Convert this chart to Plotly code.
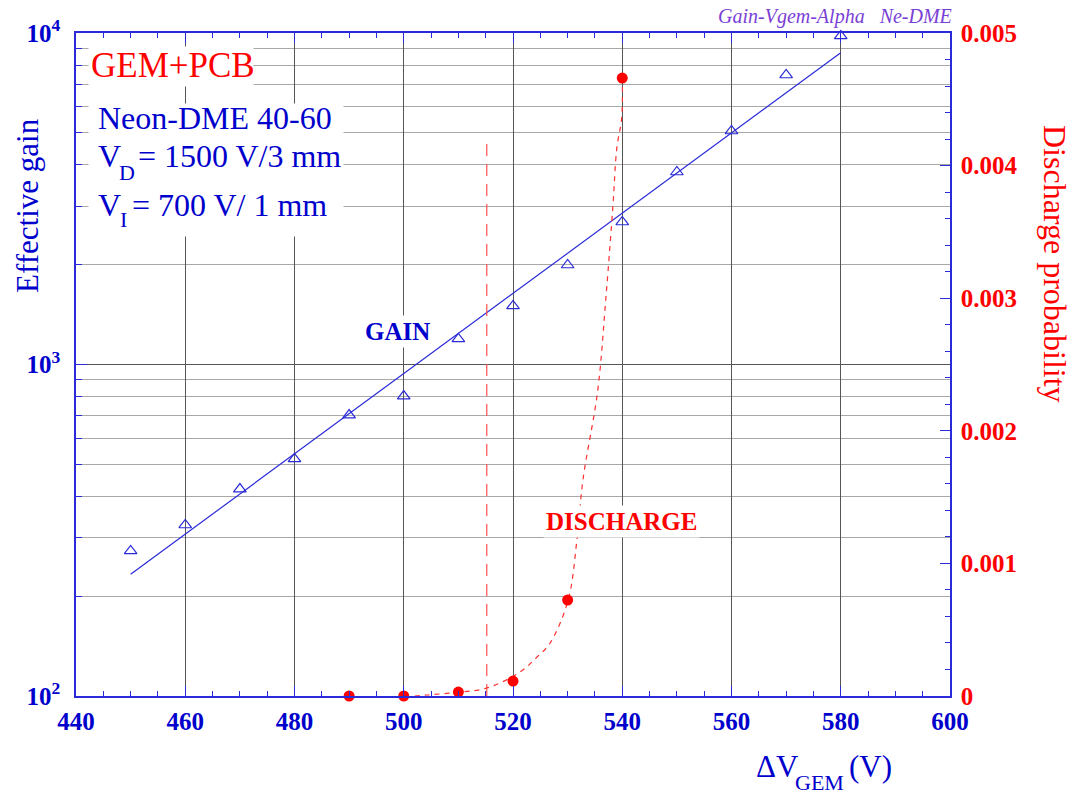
import plotly.graph_objects as go

# ---------------- data ----------------
gain_v = [450, 460, 470, 480, 490, 500, 510, 520, 530, 540, 550, 560, 570, 580]
gain_val = [274, 328, 421, 519, 704, 803, 1194, 1502, 1996, 2691, 3808, 5063, 7470, 9800]

fit_v = [450, 580]
fit_val = [233, 8722]

dis_v = [490, 500, 510, 520, 530, 540]
dis_p = [0.0, 0.0, 0.00003, 0.000113, 0.000724, 0.00466]

curve_v = [502.0, 504.3, 510.3, 515.2, 521.3, 524.4, 526.8, 530.1, 531.7, 532.8,
           535.5, 537.0, 538.3, 539.0, 539.9, 540.0]
curve_p = [0.0, 0.0000075, 0.00003, 0.00006, 0.000181, 0.000294, 0.0004, 0.000724,
           0.001176, 0.001629, 0.0023, 0.0030, 0.0037, 0.00413, 0.00436, 0.00466]

thr_v = [515.2, 515.2]
thr_p = [0.0, 0.00417]

x_ticks = [440, 460, 480, 500, 520, 540, 560, 580, 600]
y_ticks = [100, 1000, 10000]
y_ticktext = ["10<sup>2</sup>", "10<sup>3</sup>", "10<sup>4</sup>"]
y2_ticks = [0, 0.001, 0.002, 0.003, 0.004, 0.005]
y2_ticktext = ["0", "0.001", "0.002", "0.003", "0.004", "0.005"]

# ---------------- style ----------------
BLUE = "#0000cc"
LINEBLUE = "#2a2ad8"
RED = "#ff0000"
SERIF = "Liberation Serif"

W, H = 1077, 794
L, R, T, B = 76, 950, 33, 696


def px(x):
    return (x - L) / (R - L)


def py(y):
    return (B - y) / (B - T)


fig = go.Figure()

fig.add_trace(go.Scatter(x=fit_v, y=fit_val, mode="lines",
                         line=dict(color=LINEBLUE, width=1.2), showlegend=False))
fig.add_trace(go.Scatter(x=gain_v, y=gain_val, mode="markers",
                         marker=dict(symbol="triangle-up-open", size=11,
                                     color=LINEBLUE, line=dict(width=1.2, color=LINEBLUE)),
                         cliponaxis=False, showlegend=False))
fig.add_trace(go.Scatter(x=thr_v, y=thr_p, yaxis="y2", mode="lines",
                         line=dict(color="#ff5050", width=1.2, dash="12px,8px"),
                         showlegend=False))
fig.add_trace(go.Scatter(x=curve_v, y=curve_p, yaxis="y2", mode="lines",
                         line=dict(color="#ff3030", width=1.2, dash="5px,5px", shape="spline"),
                         showlegend=False))
fig.add_trace(go.Scatter(x=dis_v, y=dis_p, yaxis="y2", mode="markers",
                         marker=dict(symbol="circle", size=11, color=RED),
                         cliponaxis=False, showlegend=False))

tickfont_b = dict(family=SERIF, size=25, color=BLUE, weight="bold")

fig.update_layout(
    width=W, height=H,
    margin=dict(l=L, r=W - R, t=T, b=H - B, pad=0),
    paper_bgcolor="white", plot_bgcolor="white",
    showlegend=False,
    xaxis=dict(
        range=[440, 600], tickvals=x_ticks, ticks="inside", ticklen=10,
        tickcolor=LINEBLUE, tickwidth=1,
        showline=True, linecolor=LINEBLUE, linewidth=1.5, mirror="ticks",
        showgrid=True, gridcolor="#555555", gridwidth=1, zeroline=False,
        tickfont=tickfont_b, ticklabelstandoff=2,
        minor=dict(dtick=5, tick0=440, ticks="inside", ticklen=5,
                   tickcolor=LINEBLUE, showgrid=False),
    ),
    yaxis=dict(
        type="log", range=[2, 4], tickvals=y_ticks, ticktext=y_ticktext,
        ticks="inside", ticklen=11, tickcolor=LINEBLUE,
        showline=True, linecolor=LINEBLUE, linewidth=1.5, mirror=False,
        showgrid=True, gridcolor="#555555", gridwidth=1, zeroline=False,
        tickfont=tickfont_b, ticklabelstandoff=9,
        minor=dict(dtick="D1", ticks="inside", ticklen=6, tickcolor=LINEBLUE,
                   showgrid=True, gridcolor="#a8a8a8", gridwidth=1),
    ),
    yaxis2=dict(
        overlaying="y", side="right", range=[0, 0.005],
        tickvals=y2_ticks, ticktext=y2_ticktext,
        ticks="inside", ticklen=10, tickcolor=LINEBLUE,
        showline=True, linecolor=LINEBLUE, linewidth=1.5,
        showgrid=False, zeroline=False,
        tickfont=dict(family=SERIF, size=25, color=RED, weight="bold"),
        ticklabelstandoff=4,
        minor=dict(dtick=0.0002, tick0=0, ticks="inside", ticklen=5,
                   tickcolor=LINEBLUE, showgrid=False),
    ),
)


def note(text, x, y, size, color, xanchor="center", yanchor="middle", **kw):
    return dict(text=text, x=px(x), y=py(y), xref="paper", yref="paper",
                xanchor=xanchor, yanchor=yanchor, showarrow=False,
                font=dict(family=SERIF, size=size, color=color), **kw)


def box(x0, y0, x1, y1):
    return dict(text=" ", x=px(x0), y=py(y0), xref="paper", yref="paper",
                xanchor="left", yanchor="top", showarrow=False,
                width=x1 - x0, height=y1 - y0, bgcolor="white", borderpad=0,
                font=dict(family=SERIF, size=10, color="white"))


ann = []
# axis titles
ann.append(note("Effective gain", 28, 206, 31, BLUE, textangle=-90))
ann.append(note("Discharge probability", 1055, 264, 32, RED, textangle=90))
ann.append(note("\u0394V", 754, 766, 31, BLUE, xanchor="left"))
ann.append(note("GEM", 819.5, 782, 22, BLUE))
ann.append(note("(V)", 847, 766, 31, BLUE, xanchor="left"))
# top right title
ann.append(note("<i>Gain-Vgem-Alpha   Ne-DME</i>", 835, 16, 20, "#7b3fd6"))
# text boxes (white backgrounds first)
ann.append(box(88, 46, 252, 85))
ann.append(box(88, 103, 342, 235))
ann.append(note("GEM+PCB", 89, 65.5, 35, RED, xanchor="left"))
ann.append(note("Neon-DME 40-60", 96, 118.5, 32, BLUE, xanchor="left"))
ann.append(note("V", 96, 156, 32, BLUE, xanchor="left"))
ann.append(note("D", 127, 172, 22, BLUE))
ann.append(note("= 1500 V/3 mm", 136, 156, 32, BLUE, xanchor="left"))
ann.append(note("V", 96, 205, 32, BLUE, xanchor="left"))
ann.append(note("I", 123, 219, 22, BLUE))
ann.append(note("= 700 V/ 1 mm", 130, 205, 32, BLUE, xanchor="left"))
ann.append(note("<b>GAIN</b>", 397, 332, 25, BLUE, bgcolor="white", borderpad=2))
ann.append(note("<b>DISCHARGE</b>", 621, 521, 25, RED, bgcolor="white", borderpad=2))

fig.update_layout(annotations=ann)

fig.write_html("out.html")
